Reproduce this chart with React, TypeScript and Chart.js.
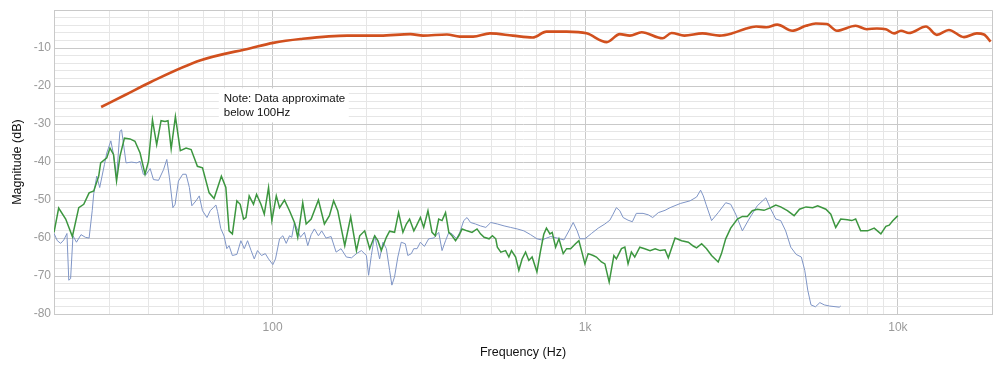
import React, { useEffect, useRef } from 'react';
import { Chart, registerables } from 'chart.js';
Chart.register(...registerables);

// ---- axis definitions ----
const xGridTicks = [20, 30, 40, 50, 60, 70, 80, 90, 100, 200, 300, 400, 500, 600, 700, 800, 900, 1000, 2000, 3000, 4000, 5000, 6000, 7000, 8000, 9000, 10000, 20000];
const xMajorTicks = [100, 1000, 10000, 20000];
const xTickLabels: Record<number, string> = { 100: '100', 1000: '1k', 10000: '10k' };
const yLabelledTicks = [-10, -20, -30, -40, -50, -60, -70, -80];

// ---- series: orange (thick) ----
const orangeHz = [28.3, 34.0, 40.8, 58.9, 85.0, 100.5, 122.8, 173.5, 221, 276, 303, 361, 397, 438, 496, 587, 679, 752, 872, 1010, 1172, 1290, 1389, 1515, 1768, 1889, 2076, 2370, 2689, 2952, 3274, 3520, 3794, 4113, 4590, 5080, 5463, 5924, 6380, 7330, 7950, 8570, 9150, 9720, 10230, 10850, 12300, 13320, 14560, 16270, 17880, 18850, 19800];
const orangeDb = [-25.5, -22.2, -18.9, -13.2, -10.0, -8.6, -7.6, -6.7, -6.7, -6.3, -6.7, -6.4, -6.95, -6.95, -6.1, -6.7, -7.2, -5.65, -5.65, -6.1, -8.4, -6.3, -6.7, -5.8, -7.4, -6.0, -6.7, -6.1, -6.7, -6.1, -4.8, -4.3, -4.5, -3.8, -5.4, -4.1, -3.5, -3.65, -5.4, -4.1, -5.0, -4.8, -5.0, -6.1, -5.4, -6.0, -4.3, -6.5, -5.2, -7.1, -6.1, -6.4, -8.3];

// ---- series: green ----
const greenHz = [20.0, 20.7, 21.8, 22.9, 24.0, 24.9, 25.9, 26.8, 27.8, 28.2, 29.5, 30.2, 31.0, 31.7, 32.5, 33.6, 35.0, 36.3, 37.7, 39.1, 40.1, 41.3, 42.6, 44.0, 45.3, 46.3, 47.4, 48.9, 50.7, 52.9, 54.9, 57.5, 59.7, 62.7, 65.0, 68.6, 70.9, 72.6, 74.4, 76.9, 78.8, 80.8, 82.2, 84.2, 86.9, 88.9, 91.8, 94.1, 97.1, 99.5, 102.8, 105.3, 109.2, 113.3, 117.5, 120.4, 124.9, 128.1, 132.9, 140.2, 146.5, 152.0, 156.8, 161.6, 170.2, 177.8, 185.5, 190.0, 197.1, 204.5, 212.1, 217.2, 222.8, 231.2, 236.8, 245.6, 253.0, 261.2, 267.9, 274.3, 283.1, 288.5, 297.1, 304.4, 314.1, 323.6, 331.7, 340.0, 348.4, 357.5, 366.3, 375.2, 384.8, 394.2, 403.8, 418.8, 434.4, 450.8, 462.4, 475.1, 492.7, 504.8, 517.5, 523.6, 537.1, 556.2, 570.0, 581.0, 599, 613.4, 628.3, 644.5, 660.1, 676.3, 700.7, 719.2, 737.0, 751.6, 771.1, 784.3, 804.1, 823.9, 850.4, 872.0, 898.0, 931.1, 954.5, 973.2, 997.8, 1022, 1061, 1086, 1127, 1156, 1193, 1235, 1258, 1306, 1339, 1371, 1405, 1440, 1495, 1550, 1612, 1674, 1736, 1800, 1844, 1938, 2034, 2137, 2216, 2271, 2357, 2444, 2536, 2663, 2728, 2814, 2919, 3067, 3182, 3300, 3423, 3551, 3731, 3922, 4069, 4219, 4432, 4657, 4845, 5085, 5342, 5540, 5885, 6102, 6327, 6565, 6898, 7120, 7328, 7602, 8000, 8400, 8823, 9154, 9382, 9616, 10000];
const greenDb = [-58.5, -52.1, -55.0, -59.6, -52.0, -51.1, -48.1, -47.6, -43.7, -40.2, -38.9, -36.3, -38.0, -45.0, -38.5, -33.7, -33.9, -34.5, -37.6, -43.2, -39.8, -28.9, -35.4, -29.1, -29.3, -29.1, -36.5, -28.0, -37.0, -36.3, -36.7, -41.1, -41.5, -48.1, -49.6, -43.7, -46.7, -58.1, -58.9, -50.2, -51.1, -55.0, -54.6, -48.9, -51.1, -48.5, -51.1, -53.7, -46.7, -55.4, -48.9, -52.0, -50.0, -52.8, -55.9, -59.8, -50.7, -56.3, -55.0, -50.0, -56.3, -54.1, -50.2, -52.8, -62.0, -54.4, -63.3, -59.4, -58.1, -62.8, -59.4, -60.7, -63.3, -59.8, -58.2, -58.5, -53.3, -58.5, -56.3, -55.0, -58.1, -56.8, -54.6, -57.2, -52.8, -58.5, -59.4, -55.0, -55.4, -53.3, -58.5, -59.4, -60.7, -59.4, -57.6, -58.1, -58.5, -57.6, -58.9, -59.8, -60.2, -59.4, -60.2, -62.4, -63.7, -63.3, -65.0, -63.3, -65.0, -68.5, -65.5, -63.7, -65.9, -65.0, -68.9, -63.5, -59.0, -57.4, -58.9, -58.5, -62.4, -60.2, -64.1, -62.8, -62.8, -61.5, -60.7, -63.3, -66.8, -64.1, -64.6, -65.0, -66.3, -66.8, -71.6, -64.6, -65.5, -62.8, -62.4, -66.8, -63.7, -65.0, -62.4, -62.8, -63.3, -62.8, -63.3, -63.1, -65.2, -60.0, -60.7, -61.1, -62.1, -62.6, -61.5, -62.8, -64.6, -66.3, -64.1, -60.2, -57.4, -55.0, -54.3, -54.3, -52.8, -52.4, -52.7, -52.0, -51.3, -51.8, -52.8, -54.1, -52.4, -51.8, -52.0, -51.5, -52.4, -53.7, -57.2, -55.0, -55.2, -55.4, -55.0, -58.1, -58.1, -57.4, -58.9, -56.9, -56.6, -55.5, -54.1];

// ---- series: blue (thin) ----
const blueHz = [20.0, 20.5, 21.0, 21.5, 22.0, 22.3, 22.6, 23.0, 23.6, 24.4, 25.2, 25.9, 26.5, 26.8, 27.4, 28.0, 29.0, 29.5, 30.4, 31.0, 31.7, 32.5, 32.9, 34.0, 35.4, 36.8, 37.7, 38.6, 39.3, 40.6, 41.6, 43.2, 44.8, 45.9, 46.8, 48.0, 48.8, 50.0, 51.6, 52.9, 54.2, 55.2, 56.9, 58.3, 59.7, 61.7, 63.2, 64.6, 65.9, 66.7, 68.3, 70.0, 71.4, 72.6, 74.4, 76.9, 79.2, 81.2, 83.2, 85.4, 87.4, 89.5, 92.2, 94.8, 97.1, 100.2, 102.2, 105.3, 107.9, 110.6, 113.3, 115.2, 117.5, 119.9, 122.8, 126.5, 129.6, 132.9, 136.1, 140.2, 143.6, 148.3, 153.9, 159.7, 165.6, 172.2, 178.9, 185.5, 192.4, 199.6, 202.9, 207.0, 212.1, 220.0, 225.5, 231.2, 236.8, 240.8, 245.6, 251.6, 258.0, 265.8, 270.8, 277.9, 282.9, 289.9, 297.1, 306.0, 315.8, 327.6, 340.0, 348.4, 357.5, 366.3, 375.2, 387.6, 397.1, 408.9, 418.8, 429.7, 445.6, 462.4, 481.0, 498.9, 523.6, 550.2, 577.2, 605.8, 636.4, 668.6, 700.7, 726.4, 775.4, 813.6, 854.7, 886.9, 915.4, 942.3, 961.7, 997.8, 1047, 1100, 1156, 1199, 1228, 1258, 1290, 1322, 1371, 1415, 1457, 1531, 1593, 1644, 1714, 1800, 1868, 2014, 2164, 2271, 2339, 2386, 2434, 2536, 2663, 2814, 2919, 3029, 3182, 3342, 3551, 3782, 3922, 4069, 4219, 4376, 4544, 4727, 4911, 5037, 5149, 5273, 5450, 5629, 5815, 6042, 6494, 6565];
const blueDb = [-58.8, -60.7, -61.4, -60.5, -58.8, -71.1, -70.7, -59.4, -61.1, -59.1, -59.8, -60.0, -52.8, -48.3, -43.7, -46.7, -40.6, -37.6, -34.4, -38.0, -44.1, -31.9, -31.5, -40.2, -40.0, -40.2, -39.8, -43.2, -43.4, -41.7, -44.6, -44.8, -42.0, -39.3, -44.1, -52.0, -51.1, -45.0, -43.2, -43.2, -46.7, -51.5, -50.2, -48.9, -52.8, -54.6, -52.8, -52.0, -51.3, -53.0, -57.5, -59.5, -62.8, -62.0, -64.6, -64.3, -60.7, -62.8, -60.7, -63.3, -65.5, -63.3, -64.6, -64.1, -65.5, -67.0, -65.5, -60.2, -59.4, -61.4, -59.4, -59.8, -55.9, -57.6, -59.8, -58.5, -62.0, -59.1, -57.6, -59.4, -58.1, -60.0, -59.6, -63.7, -62.8, -65.0, -65.2, -64.1, -63.3, -64.6, -69.8, -64.6, -59.2, -65.5, -61.1, -62.8, -68.5, -72.4, -70.2, -65.0, -61.1, -61.5, -64.6, -64.1, -62.8, -62.8, -61.1, -62.2, -60.2, -60.0, -58.5, -63.3, -60.7, -58.5, -58.9, -60.2, -58.5, -55.4, -54.6, -55.9, -56.3, -56.8, -57.2, -55.9, -56.3, -56.8, -57.2, -57.6, -58.1, -59.1, -60.2, -60.5, -59.6, -60.0, -60.5, -58.1, -55.9, -58.1, -60.2, -60.2, -58.8, -57.4, -56.3, -55.3, -53.7, -52.0, -52.8, -54.6, -55.3, -55.7, -53.5, -53.5, -53.9, -54.6, -53.3, -52.7, -52.0, -50.9, -50.2, -49.2, -47.4, -48.9, -51.1, -55.4, -53.3, -50.7, -51.1, -53.7, -58.1, -55.0, -51.5, -49.4, -52.4, -55.0, -55.4, -58.1, -62.4, -64.3, -65.0, -68.5, -73.7, -77.6, -78.1, -77.0, -77.6, -77.9, -78.2, -77.9];

const noteLines = ['Note: Data approximate', 'below 100Hz'];
const noteAnchorHz = 67.3;
const noteAnchorDb = -20.6;

const pts = (xs: number[], ys: number[]) => xs.map((x, i) => ({ x, y: ys[i] }));

const MAJOR = '#c9c9c9';
const MINOR = '#e6e6e6';
const TICK_FONT = { family: '"Liberation Sans", Arial, sans-serif', size: 12 };

const notePlugin = {
  id: 'noteBox',
  beforeDatasetsDraw(chart: any) {
    const { ctx, scales } = chart;
    const x0 = scales.x.getPixelForValue(noteAnchorHz);
    const y0 = scales.y.getPixelForValue(noteAnchorDb);
    ctx.save();
    ctx.fillStyle = '#ffffff';
    ctx.fillRect(x0, y0, 130, 34);
    ctx.fillStyle = '#111111';
    ctx.font = '11.5px "Liberation Sans", Arial, sans-serif';
    ctx.textBaseline = 'middle';
    ctx.fillText(noteLines[0], x0 + 5, y0 + 10);
    ctx.fillText(noteLines[1], x0 + 5, y0 + 24);
    ctx.restore();
  },
};

export default function App() {
  const ref = useRef<HTMLCanvasElement | null>(null);
  useEffect(() => {
    if (!ref.current) return;
    const chart = new Chart(ref.current, {
      type: 'line',
      data: {
        datasets: [
          {
            label: 'Green',
            data: pts(greenHz, greenDb),
            borderColor: '#3c963f',
            borderWidth: 1.5,
            pointRadius: 0,
            tension: 0,
            order: 2,
          },
          {
            label: 'Blue',
            data: pts(blueHz, blueDb),
            borderColor: '#7f95c6',
            borderWidth: 1,
            pointRadius: 0,
            tension: 0,
            order: 3,
          },
          {
            label: 'Orange',
            data: pts(orangeHz, orangeDb),
            borderColor: '#d1501e',
            borderWidth: 2.6,
            pointRadius: 0,
            cubicInterpolationMode: 'monotone',
            order: 1,
          },
        ],
      },
      options: {
        animation: false,
        responsive: true,
        maintainAspectRatio: false,
        parsing: true,
        layout: { padding: { top: 7, right: 8, left: 0, bottom: 0 } },
        plugins: {
          legend: { display: false },
          tooltip: { enabled: false },
        },
        scales: {
          x: {
            type: 'logarithmic',
            min: 20,
            max: 20000,
            afterBuildTicks: (axis: any) => {
              axis.ticks = xGridTicks.map((v) => ({ value: v }));
            },
            afterFit: (axis: any) => {
              axis.height = 57;
            },
            ticks: {
              autoSkip: false,
              maxRotation: 0,
              minRotation: 0,
              padding: 6,
              color: '#9a9a9a',
              font: TICK_FONT,
              callback: (v: any) => xTickLabels[Number(v)] ?? '',
            },
            grid: {
              drawTicks: false,
              color: (c: any) => (xMajorTicks.includes(c.tick?.value) ? MAJOR : MINOR),
              lineWidth: 1,
            },
            border: { display: true, color: MAJOR },
            title: {
              display: true,
              text: 'Frequency (Hz)',
              color: '#111111',
              font: { family: '"Liberation Sans", Arial, sans-serif', size: 12.5 },
              padding: { top: 0, bottom: 11 },
            },
          },
          y: {
            type: 'linear',
            min: -80,
            max: 0,
            afterFit: (axis: any) => {
              axis.width = 54;
            },
            ticks: {
              stepSize: 2,
              autoSkip: false,
              padding: 3,
              color: '#9a9a9a',
              font: TICK_FONT,
              callback: (v: any) => (yLabelledTicks.includes(Number(v)) ? String(v) : ''),
            },
            grid: {
              drawTicks: false,
              color: (c: any) => (Math.round(c.tick?.value) % 10 === 0 ? MAJOR : MINOR),
              lineWidth: 1,
            },
            border: { display: true, color: MAJOR },
            title: {
              display: true,
              text: 'Magnitude (dB)',
              color: '#111111',
              font: { family: '"Liberation Sans", Arial, sans-serif', size: 12.5 },
              padding: { top: 10, bottom: 0 },
            },
          },
        },
      },
      plugins: [notePlugin],
    } as any);
    return () => chart.destroy();
  }, []);

  return (
    <div style={{ position: 'fixed', left: 0, top: 0, width: 1000, height: 371, background: '#fff' }}>
      <canvas ref={ref} />
    </div>
  );
}
